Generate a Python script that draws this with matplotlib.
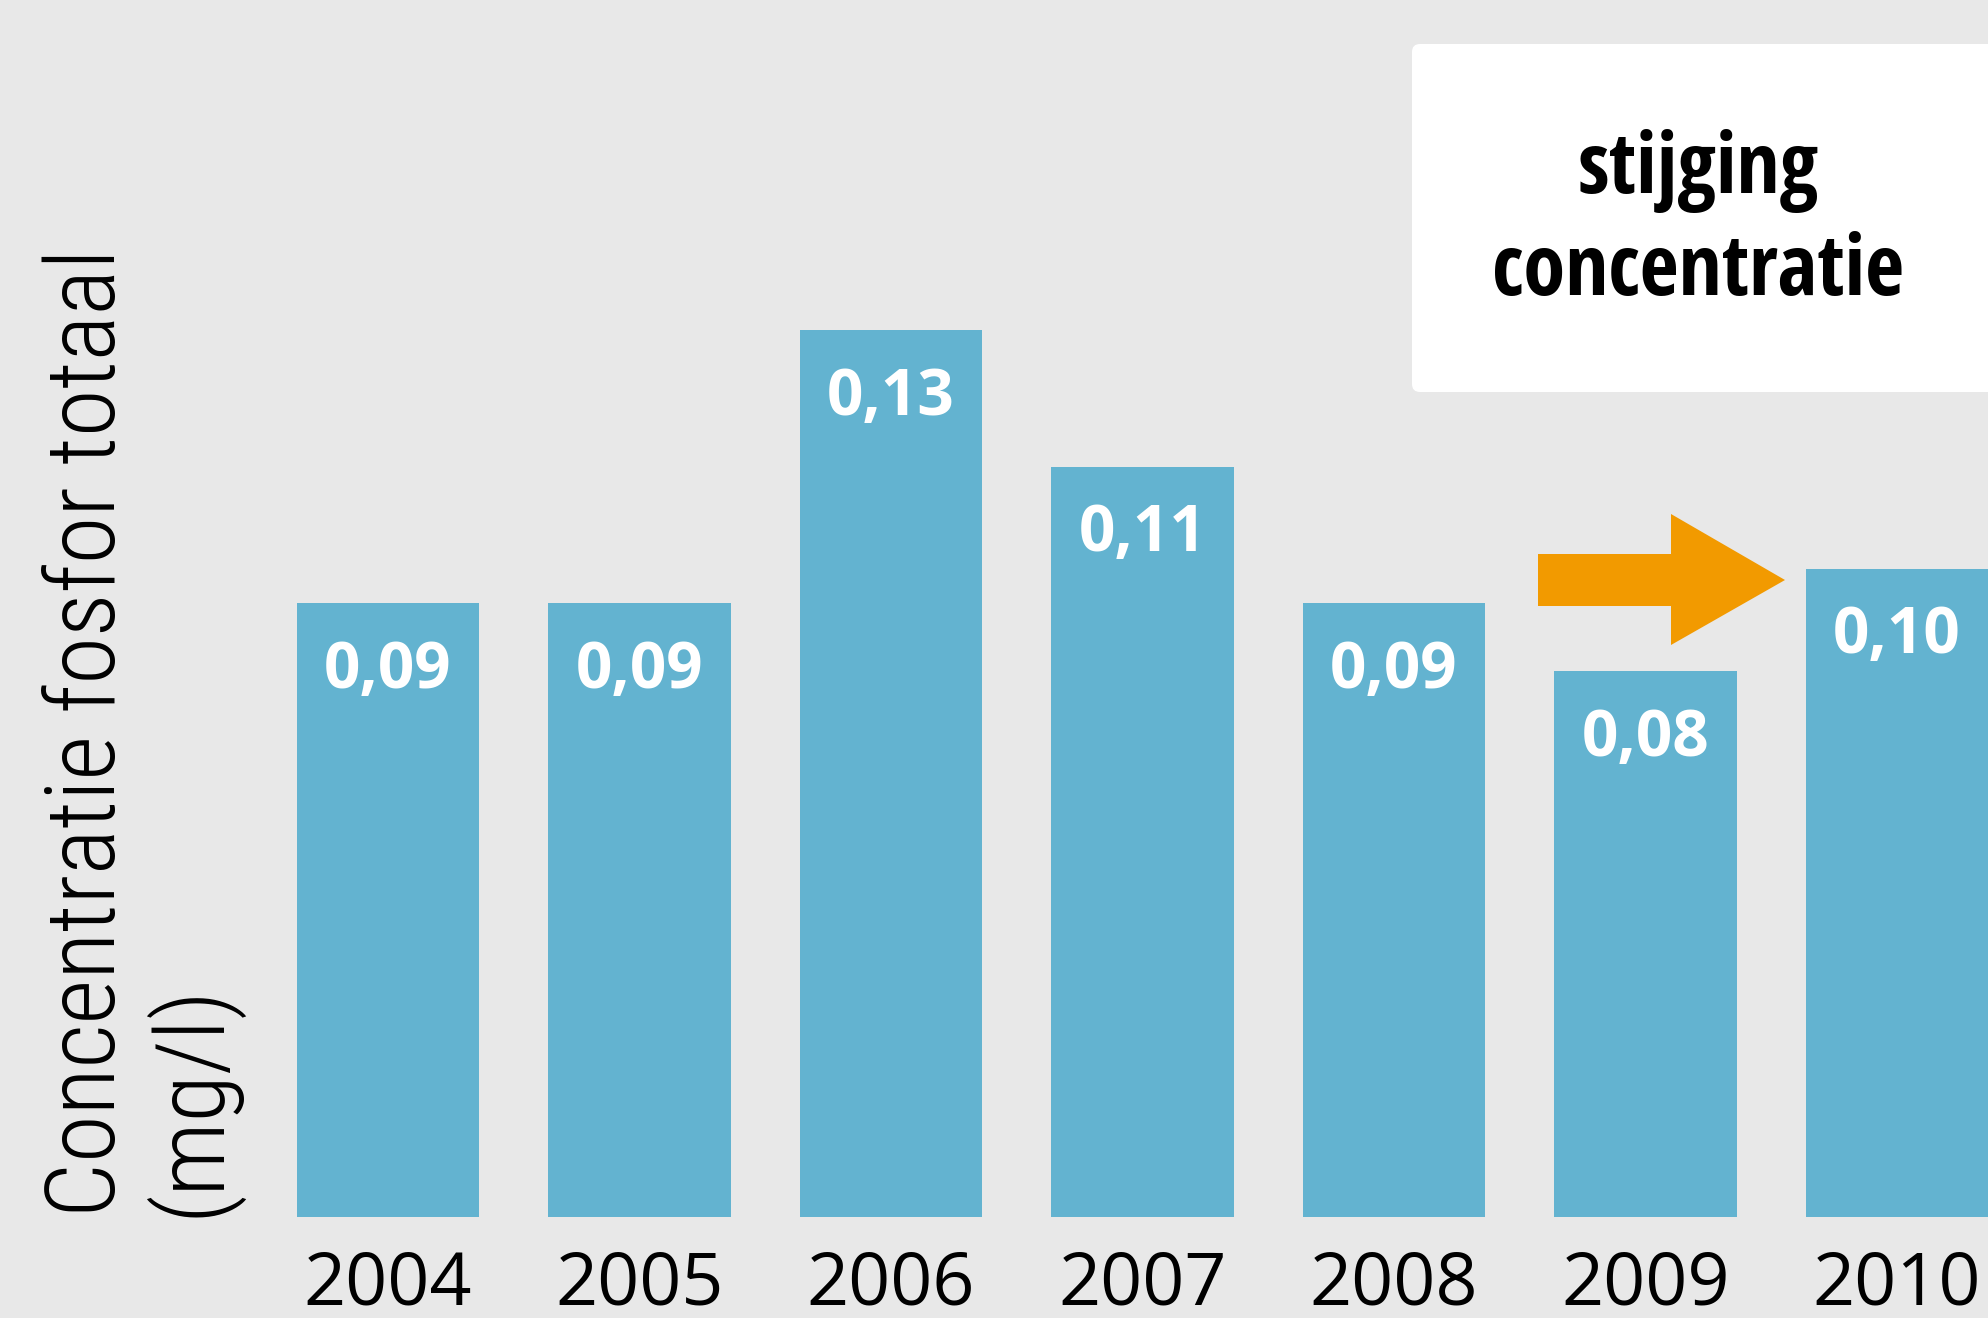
import matplotlib
matplotlib.use('Agg')
import matplotlib.pyplot as plt
from matplotlib.patches import FancyBboxPatch, Polygon

# data
years = ['2004', '2005', '2006', '2007', '2008', '2009', '2010']
concentrations = [0.09, 0.09, 0.13, 0.11, 0.09, 0.08, 0.095]
valueLabels = ['0,09', '0,09', '0,13', '0,11', '0,09', '0,08', '0,10']

barColor = '#63b3d0'
arrowColor = '#f29a00'
bgColor = '#e8e8e8'

W, H = 1988, 1318
fig = plt.figure(figsize=(W / 100, H / 100), dpi=100, facecolor=bgColor)

# axes fills the width, bottom sits on the bars' baseline
ax = fig.add_axes([0, 1 - 1217 / H, 1, 1217 / H])
ax.set_facecolor(bgColor)
for side in ax.spines.values():
    side.set_visible(False)

positions = list(range(len(years)))
ax.bar(positions, concentrations, width=0.727, color=barColor)
ax.set_xlim(-1.543, 6.362)
ax.set_ylim(0, 0.1784)

ax.set_yticks([])
ax.set_xticks(positions, years)
ax.tick_params(axis='x', length=0, pad=23)
for lbl in ax.get_xticklabels():
    lbl.set_fontfamily('Open Sans')
    lbl.set_fontsize(53)
    lbl.set_color('black')

# value labels inside the bars
for pos, val, txt in zip(positions, concentrations, valueLabels):
    ax.annotate(txt, xy=(pos, val), xytext=(0, -49), textcoords='offset points',
                ha='center', va='center', color='white', fontsize=46,
                fontweight='bold', fontfamily='Open Sans')

# y axis title, drawn as figure text
fig.text(42 / W, 1 - 1217 / H, 'Concentratie fosfor totaal\n(mg/l)',
         rotation=90, ha='left', va='bottom', multialignment='left',
         fontsize=70, fontfamily=['Roboto Condensed', 'DejaVu Sans'],
         fontweight='light', color='black', linespacing=1.1)

# white callout box at the top right
box = FancyBboxPatch((1412 / W, 1 - 392 / H), 620 / W, 348 / H,
                     boxstyle='round,pad=0,rounding_size=0.004',
                     mutation_aspect=W / H, transform=fig.transFigure,
                     facecolor='white', edgecolor='none')
fig.add_artist(box)
fig.text(1698 / W, 1 - 222 / H, 'stijging\nconcentratie', ha='center', va='center',
         fontsize=61, fontweight='bold',
         fontfamily=['Open Sans Condensed', 'DejaVu Sans'], linespacing=1.28)

# orange arrow pointing to the 2010 bar
arrowPx = [(1538, 554), (1671, 554), (1671, 514), (1785, 580),
           (1671, 645), (1671, 606), (1538, 606)]
arrow = Polygon([(x / W, 1 - y / H) for x, y in arrowPx], closed=True,
                transform=fig.transFigure, facecolor=arrowColor, edgecolor='none')
fig.add_artist(arrow)

fig.savefig('out.png', dpi=100, facecolor=bgColor)
